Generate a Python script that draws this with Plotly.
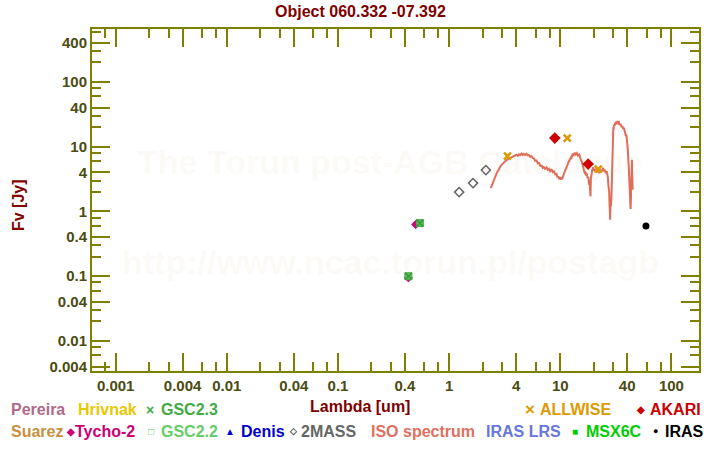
import plotly.graph_objects as go

# ---------------- data ----------------
iso_wl = [2.37, 2.40, 2.43, 2.46, 2.49, 2.53, 2.58, 2.62, 2.67, 2.71, 2.76, 2.83, 2.90, 2.98, 3.06,
          3.15, 3.25, 3.38, 3.52, 3.63, 3.75, 3.90, 4.04,
          4.15, 4.25, 4.35, 4.48, 4.58, 4.70, 4.83, 4.97, 5.08, 5.20, 5.35, 5.52, 5.65, 5.80, 5.95,
          6.12, 6.28, 6.45, 6.62, 6.79, 6.95, 7.10, 7.30, 7.53, 7.70, 7.90, 8.10, 8.35, 8.55, 8.80,
          9.00, 9.27, 9.45, 9.60, 9.75, 9.91, 10.1, 10.25,
          10.45, 10.6, 10.8, 11.0, 11.2, 11.4, 11.6, 11.9, 12.1, 12.4, 12.6, 12.9, 13.2, 13.5, 13.8,
          14.1, 14.4, 14.8, 15.0, 15.2, 15.4, 15.6, 15.8, 16.0, 16.15, 16.3, 16.55, 16.8, 17.05, 17.3,
          17.6, 17.9, 18.1, 18.3, 18.5, 18.7, 18.85, 19.0, 19.4, 19.8, 20.1, 20.5, 20.8, 21.2, 21.5,
          21.9, 22.2, 22.6, 23.0, 23.4, 23.8, 24.3, 24.7, 25.2, 25.6, 26.1, 26.5, 26.8, 27.1, 27.5,
          27.8, 28.1, 28.3, 28.5, 28.8, 29.0, 29.2, 29.4, 29.6, 29.8, 30.0, 30.2, 30.4, 30.8, 31.2,
          31.5, 31.9, 32.3, 32.7, 33.2, 33.7, 34.3, 34.9, 35.6, 36.2, 36.8, 37.4, 38.1, 38.5, 39.0,
          39.3, 39.5, 39.9, 40.2, 40.5, 40.8, 41.0, 41.3, 41.5, 41.7, 42.0, 42.3, 42.6, 42.9, 43.2,
          43.5, 43.8, 44.1, 44.3, 44.5, 44.8]
iso_fx = [2.30, 2.45, 2.60, 2.70, 2.90, 3.05, 3.28, 3.55, 3.85, 4.05, 4.40, 4.75, 5.00, 5.30, 5.59,
          5.85, 6.10, 6.45, 6.68, 6.95, 7.10, 7.35, 7.51,
          7.25, 7.60, 7.40, 7.85, 7.50, 7.75, 7.45, 7.80, 7.35, 7.45, 7.00, 7.15, 6.70, 6.55, 6.05,
          6.10, 5.55, 5.60, 5.05, 5.10, 4.70, 4.85, 4.55, 4.80, 4.40, 4.55, 4.20, 4.50, 4.05, 4.15,
          3.75, 3.80, 3.35, 3.50, 3.15, 3.35, 3.10, 3.30,
          3.25, 3.60, 3.80, 4.20, 4.50, 5.10, 5.20, 5.90, 6.10, 6.80, 6.70, 7.60, 7.40, 8.10, 7.60,
          7.95, 7.30, 7.60, 6.80, 6.60, 6.10, 5.92, 5.30, 5.10, 4.50, 4.60, 4.00, 4.10, 3.60, 3.85,
          3.30, 3.40, 2.60, 3.10, 2.00, 1.70, 3.20, 3.60, 4.40, 4.80, 4.30, 4.50, 4.05, 4.60, 4.10,
          4.30, 3.90, 4.50, 4.10, 4.40, 4.15, 4.75, 4.20, 4.40, 3.90, 4.20, 3.60, 3.40, 2.50, 2.10,
          1.20, 0.743, 1.50, 1.20, 1.50, 2.5, 5.0, 10.0, 15.3, 17.5, 20.0, 18.5, 22.0, 21.0, 23.5,
          22.0, 24.5, 23.0, 25.0, 23.2, 23.8, 21.5, 22.5, 20.0, 20.8, 18.8, 19.5, 16.8, 17.5, 14.5,
          15.5, 12.5, 11.8, 10.5, 9.0, 8.0, 6.0, 5.0, 3.8, 3.47, 2.6, 2.0, 1.5, 1.09, 1.6,
          2.5, 4.5, 6.28, 4.5, 3.2, 2.16]

tycho_wl = [0.43, 0.50]
tycho_fx = [0.095, 0.63]
gsc22_wl = [0.43, 0.545]
gsc22_fx = [0.10, 0.66]
gsc23_wl = [0.43, 0.545]
gsc23_fx = [0.10, 0.66]
tmass_wl = [1.23, 1.64, 2.14]
tmass_fx = [1.99, 2.74, 4.35]
allwise_wl = [3.35, 11.56, 22.0]
allwise_fx = [7.17, 13.6, 4.52]
akari_wl = [8.93, 17.8]
akari_fx = [13.6, 5.4]
iras_wl = [59.0]
iras_fx = [0.594]

x_major = [0.001, 0.004, 0.01, 0.04, 0.1, 0.4, 1, 4, 10, 40, 100]
x_major_txt = ["0.001", "0.004", "0.01", "0.04", "0.1", "0.4", "1", "4", "10", "40", "100"]
y_major = [0.004, 0.01, 0.04, 0.1, 0.4, 1, 4, 10, 40, 100, 400]
y_major_txt = ["0.004", "0.01", "0.04", "0.1", "0.4", "1", "4", "10", "40", "100", "400"]
decades = [1e-4, 1e-3, 1e-2, 1e-1, 1, 10, 100]
minor_mult = [2, 3, 6, 8]

# ---------------- figure ----------------
OLIVE = "#808000"
TICKTXT = "#4b4b12"
DARKRED = "#800000"
FONT = "Liberation Sans, Arial, sans-serif"

fig = go.Figure()

fig.add_trace(go.Scatter(x=iso_wl, y=iso_fx, mode="lines",
                         line=dict(color="#e06c5a", width=2), hoverinfo="skip"))
fig.add_trace(go.Scatter(x=tmass_wl, y=tmass_fx, mode="markers",
                         marker=dict(symbol="diamond-open", size=7, color="#666666",
                                     line=dict(width=1.5, color="#666666"))))
fig.add_trace(go.Scatter(x=tycho_wl, y=tycho_fx, mode="markers",
                         marker=dict(symbol="diamond", size=7, color="#cc0077")))
fig.add_trace(go.Scatter(x=gsc22_wl, y=gsc22_fx, mode="markers",
                         marker=dict(symbol="square", size=7, color="#5cc05c",
                                     line=dict(width=1, color="#44aa44"))))
fig.add_trace(go.Scatter(x=gsc23_wl, y=gsc23_fx, mode="markers",
                         marker=dict(symbol="x-thin", size=7, color="#3a9a3a",
                                     line=dict(width=1.5, color="#3a9a3a"))))
fig.add_trace(go.Scatter(x=allwise_wl, y=allwise_fx, mode="markers",
                         marker=dict(symbol="x-thin", size=7, color="#dd9900",
                                     line=dict(width=2.5, color="#dd9900"))))
fig.add_trace(go.Scatter(x=akari_wl, y=akari_fx, mode="markers",
                         marker=dict(symbol="diamond", size=9, color="#cc0000")))
fig.add_trace(go.Scatter(x=iras_wl, y=iras_fx, mode="markers",
                         marker=dict(symbol="circle", size=7, color="#000000")))

x_minor = [d * m for d in decades for m in minor_mult]
y_minor = [d * m for d in decades for m in minor_mult]

axis_common = dict(type="log", showline=True, linecolor=OLIVE, linewidth=2, mirror="ticks",
                   ticks="inside", ticklen=18, tickwidth=2, tickcolor=OLIVE,
                   showgrid=False, zeroline=False,
                   tickfont=dict(family=FONT, size=15, color=TICKTXT, weight="bold"))

fig.update_xaxes(range=[-3.213, 2.248], tickmode="array", tickvals=x_major, ticktext=x_major_txt,
                 minor=dict(tickmode="array", tickvals=x_minor, ticks="inside", ticklen=9,
                            tickwidth=2, tickcolor=OLIVE, showgrid=False),
                 **axis_common)
fig.update_yaxes(range=[-2.464, 2.818], tickmode="array", tickvals=y_major, ticktext=y_major_txt,
                 minor=dict(tickmode="array", tickvals=y_minor, ticks="inside", ticklen=9,
                            tickwidth=2, tickcolor=OLIVE, showgrid=False),
                 **axis_common)

L, R, T, B = 92, 21, 29, 79
W, H = 720, 450
PW, PH = W - L - R, H - T - B


def px(x):
    return (x - L) / PW


def py(y):
    return (H - B - y) / PH


ann = []


def text(x, y, s, color, size=16, anchor="left", bold=True, angle=0):
    ann.append(dict(x=px(x), y=py(y), xref="paper", yref="paper", text=s, showarrow=False,
                    xanchor=anchor, yanchor="middle", textangle=angle, borderpad=0,
                    font=dict(family=FONT, size=size, color=color,
                              weight="bold" if bold else "normal")))


# watermark
wm = "rgba(215,185,120,0.07)"
text(390, 162, "The Torun post-AGB Catalogue", wm, size=34, anchor="center")
text(390, 262, "http://www.ncac.torun.pl/postagb", wm, size=34, anchor="center")

# title & axis titles
text(360, 12, "Object 060.332 -07.392", DARKRED, size=16, anchor="center")
text(360, 406, "Lambda [um]", DARKRED, size=16, anchor="center")
text(18, 205, "Fv [Jy]", DARKRED, size=16, anchor="center", angle=-90)

# legend row 1
text(10, 410, "Pereira", "#b06a88")
text(77, 410, "Hrivnak", "#e8c800")
text(150, 410, "×", "#44aa44", size=14, anchor="center")
text(160, 410, "GSC2.3", "#44aa44")
text(530, 410, "×", "#dd9900", size=17, anchor="center")
text(539, 410, "ALLWISE", "#dd9900")
text(640, 410, "◆", "#cc0000", size=10, anchor="center")
text(649, 410, "AKARI", "#cc0000")
# legend row 2
text(10, 431, "Suarez", "#c89040")
text(70, 431, "◆", "#cc0077", size=10, anchor="center")
text(74, 431, "Tycho-2", "#cc0077")
text(150.5, 431, "□", "#66cc66", size=10, anchor="center")
text(160, 431, "GSC2.2", "#66cc66")
text(230, 431, "▲", "#0000cc", size=10, anchor="center")
text(240, 431, "Denis", "#0000cc")
text(293, 431, "◇", "#555555", size=9, anchor="center")
text(300, 431, "2MASS", "#666666")
text(370, 431, "ISO spectrum", "#e07060")
text(485, 431, "IRAS LRS", "#6677dd")
text(575, 431, "■", "#00cc00", size=10, anchor="center")
text(585, 431, "MSX6C", "#00cc00")
text(655, 431, "●", "#000000", size=9, anchor="center")
text(664, 431, "IRAS", "#000000")

fig.update_layout(width=W, height=H, margin=dict(l=L, r=R, t=T, b=B),
                  paper_bgcolor="white", plot_bgcolor="white", showlegend=False,
                  annotations=ann, font=dict(family=FONT))

fig.write_html("out.html")
